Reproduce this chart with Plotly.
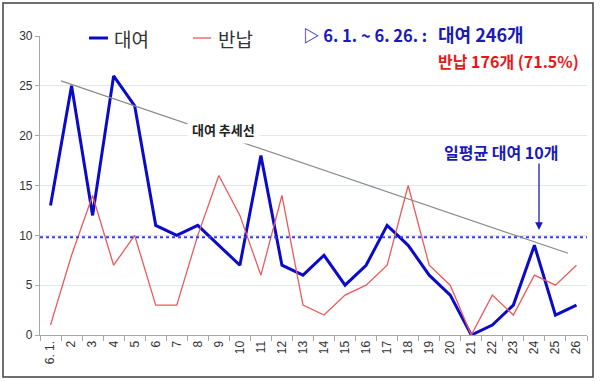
import plotly.graph_objects as go

days = ["6. 1."] + [str(d) for d in range(2, 27)]
rent = [13, 25, 12, 26, 23, 11, 10, 11, 9, 7, 18, 7, 6, 8, 5, 7, 11, 9, 6, 4, 0, 1, 3, 9, 2, 3]
ret = [1, 8, 14, 7, 10, 3, 3, 10, 16, 12, 6, 14, 3, 2, 4, 5, 7, 15, 7, 5, 0, 4, 2, 6, 5, 7]
daily_avg = 9.8
trend_x = [1.5, 25.6]
trend_y = [25.5, 8.2]
y_ticks = [0, 5, 10, 15, 20, 25, 30]

W, H = 600, 381
L, R, T, B = 40, 13, 36, 46
pw, ph = W - L - R, H - T - B

def px(x):
    return (x - L) / pw

def py(y):
    return (H - B - y) / ph

xs = list(range(1, len(days) + 1))
BLUE = "#0a0ac8"
RED = "#ec5a5a"
KR = "Noto Sans CJK KR"

fig = go.Figure()
fig.add_trace(go.Scatter(x=xs, y=rent, name="대여", mode="lines",
                         line=dict(color=BLUE, width=3), showlegend=False))
fig.add_trace(go.Scatter(x=xs, y=ret, name="반납", mode="lines",
                         line=dict(color=RED, width=1.3), showlegend=False))

# mean line
fig.add_shape(type="line", xref="x", yref="y", x0=0.5, x1=26.5, y0=daily_avg, y1=daily_avg,
              line=dict(color="#3a3ae6", width=2, dash="dot"))
# trend line
fig.add_shape(type="line", xref="x", yref="y", x0=trend_x[0], x1=trend_x[1],
              y0=trend_y[0], y1=trend_y[1], line=dict(color="#8a8a8a", width=1.2))
# outer frame
fig.add_shape(type="rect", xref="paper", yref="paper",
              x0=px(3), x1=px(593), y0=py(377), y1=py(3),
              line=dict(color="#404040", width=1.5))


def note(x, y, text, size, color, xanchor="left", **kw):
    fig.add_annotation(x=px(x), y=py(y), xref="paper", yref="paper", text=text,
                       xanchor=xanchor, yanchor="middle", showarrow=False,
                       font=dict(family=KR, size=size, color=color), **kw)


# custom legend
fig.add_shape(type="line", xref="paper", yref="paper", x0=px(89), x1=px(108),
              y0=py(38), y1=py(38), line=dict(color=BLUE, width=3))
note(112, 38, "대여", 19, "#333333")
fig.add_shape(type="line", xref="paper", yref="paper", x0=px(193), x1=px(211),
              y0=py(38), y1=py(38), line=dict(color=RED, width=1.3))
note(216, 38, "반납", 19, "#333333")

note(223, 129, "<b>대여 추세선</b>", 13, "#222222", xanchor="center",
     bgcolor="white", borderpad=4)
note(501, 152, "<b>일평균 대여 10개</b>", 16, "#1a1ab8", xanchor="center")
fig.add_annotation(x=px(539), y=py(230), ax=0, ay=-68, xref="paper", yref="paper",
                   axref="pixel", ayref="pixel", text="", showarrow=True, arrowhead=2,
                   arrowsize=1.2, arrowwidth=1.3, arrowcolor="#1a1ab8")
note(429, 35, "<b>▷ 6. 1. ~ 6. 26. :</b>", 16.5, "#1a1ab8", xanchor="right")
note(436, 34, "<b>대여 246개</b>", 18, "#1a1ab8")
note(436, 61, "<b>반납 176개 (71.5%)</b>", 16, "#e81818")

fig.update_layout(
    width=W, height=H, margin=dict(l=L, r=R, t=T, b=B),
    paper_bgcolor="white", plot_bgcolor="white",
    font=dict(family=KR, color="#333333"),
    showlegend=False,
    xaxis=dict(range=[0.5, 26.5], tickmode="array", tickvals=xs, ticktext=days,
               tickangle=-90, ticks="", showgrid=False, showline=True,
               linecolor="#a8a8a8", linewidth=1.2, zeroline=False,
               tickfont=dict(family="Arial", size=12, color="#333333"),
               minor=dict(tickmode="linear", tick0=0.5, dtick=1, ticks="outside",
                          ticklen=5, tickcolor="#a8a8a8", showgrid=False)),
    yaxis=dict(range=[0, 30], tickvals=y_ticks, showgrid=True, gridcolor="#dde7f0",
               gridwidth=1, showline=True, linecolor="#a8a8a8", linewidth=1.2,
               ticks="outside", ticklen=4, tickcolor="#a8a8a8", zeroline=False,
               tickfont=dict(family="Arial", size=12, color="#333333")),
)

fig.write_html("out.html", config={"displayModeBar": False},
               post_script="document.body.style.margin='0';")
